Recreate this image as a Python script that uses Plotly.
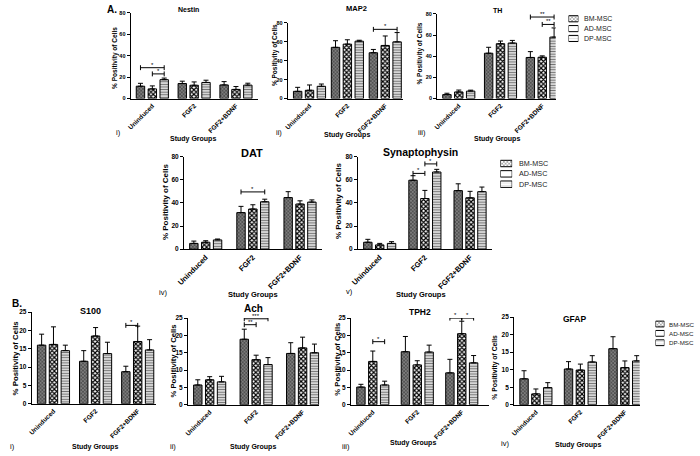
import plotly.graph_objects as go

W, H = 700, 456
FONT = "Liberation Sans, Arial, sans-serif"

# ---------------- data ----------------
GROUPS = ["Uninduced", "FGF2", "FGF2+BDNF"]
SERIES = ["BM-MSC", "AD-MSC", "DP-MSC"]

NESTIN_MEAN = [[11.5, 14.0, 12.7], [9.0, 12.4, 8.5], [17.6, 15.0, 12.5]]
NESTIN_SD = [[2.7, 2.2, 3.1], [2.8, 3.1, 2.7], [1.5, 2.1, 1.8]]
NESTIN_SIG = [(0, 0, 2, 28.8, "*"), (0, 1, 2, 23.0, "*")]

MAP2_MEAN = [[7.6, 54.0, 48.3], [8.7, 57.4, 56.0], [12.9, 60.5, 59.8]]
MAP2_SD = [[4.2, 7.0, 3.5], [5.6, 4.6, 10.0], [2.4, 1.0, 9.8]]
MAP2_SIG = [(2, 0, 2, 73.0, "*")]

TH_MEAN = [[3.7, 42.8, 38.8], [6.2, 51.8, 39.0], [7.0, 52.4, 58.0]]
TH_SD = [[1.3, 5.6, 5.5], [1.8, 2.5, 1.3], [0.9, 2.5, 8.7]]
TH_SIG = [(2, 0, 2, 77.0, "**"), (2, 1, 2, 70.0, "**")]

DAT_MEAN = [[5.0, 31.6, 44.6], [6.0, 34.7, 39.0], [8.0, 41.0, 40.7]]
DAT_SD = [[2.0, 5.4, 5.1], [1.3, 3.7, 2.8], [0.8, 2.2, 1.9]]
DAT_SIG = [(1, 0, 2, 49.5, "*")]

SYN_MEAN = [[6.0, 59.6, 50.6], [3.7, 43.8, 44.4], [5.0, 66.7, 49.7]]
SYN_SD = [[2.5, 3.9, 5.9], [1.3, 7.0, 5.6], [1.5, 2.3, 4.0]]
SYN_SIG = [(1, 0, 1, 65.5, "*"), (1, 1, 2, 73.7, "*")]

S100_MEAN = [[16.0, 11.6, 8.75], [16.2, 18.5, 17.0], [14.5, 13.7, 14.7]]
S100_SD = [[3.0, 2.9, 1.5], [4.8, 2.3, 4.2], [1.5, 3.1, 2.8]]
S100_SIG = [(2, 0, 1, 21.4, "*")]

ACH_MEAN = [[5.7, 18.9, 14.8], [7.2, 13.0, 16.4], [6.6, 11.6, 15.0]]
ACH_SD = [[1.5, 2.9, 3.1], [0.9, 1.3, 3.1], [1.6, 2.0, 2.5]]
ACH_SIG = [(1, 0, 1, 23.1, "**"), (1, 0, 2, 24.8, "***")]

TPH2_MEAN = [[5.1, 15.3, 9.2], [12.5, 11.5, 20.5], [5.7, 15.2, 12.1]]
TPH2_SD = [[0.8, 4.4, 3.9], [3.0, 1.2, 3.6], [1.1, 2.0, 2.1]]
TPH2_SIG = [(0, 1, 2, 18.2, "*"), (2, 0, 1, 25.0, "*"), (2, 1, 2, 25.0, "*")]

GFAP_MEAN = [[7.4, 10.2, 16.0], [3.1, 9.9, 10.6], [4.9, 12.2, 12.5]]
GFAP_SD = [[2.3, 2.1, 3.4], [1.4, 1.7, 1.9], [1.4, 1.8, 1.5]]
GFAP_SIG = []

TITLES = ["Nestin", "MAP2", "TH", "DAT", "Synaptophysin", "S100", "Ach", "TPH2", "GFAP"]
YTITLE = "% Positivity of Cells"
XTITLE = "Study Groups"
ROMANS = ["i)", "ii)", "iii)", "iv)", "v)", "i)", "ii)", "iii)", "iv)"]

# ---------------- styles / layout ----------------
STY = [
    dict(shape="x", bg="#7c7c7c", fg="#3a3a3a", size=2.5, sol=0.4),
    dict(shape="x", bg="#ffffff", fg="#000000", size=3.2, sol=0.6),
    dict(shape="-", bg="#e2e2e2", fg="#707070", size=2.6, sol=0.4),
]

PANELS = [
    dict(mean=NESTIN_MEAN, sd=NESTIN_SD, sig=NESTIN_SIG, x0=124, x1=253, pitch=42.3, ytop=9, yzero=96, ymax=80, dtick=20,
         t=(183, 6, 7), yt=(108, 55, 6.5), xt=(187, 137, 7), ro=(112, 130), tfs=5.5, cfs=6.5),
    dict(mean=MAP2_MEAN, sd=MAP2_SD, sig=MAP2_SIG, x0=283, x1=400, pitch=38.3, ytop=19, yzero=96, ymax=80, dtick=20,
         t=(353, 5, 7.5), yt=(270, 52, 6.5), xt=(343, 133, 7), ro=(274, 131), tfs=5.5, cfs=6.5),
    dict(mean=TH_MEAN, sd=TH_SD, sig=TH_SIG, x0=434, x1=554, pitch=42.2, ytop=10, yzero=96, ymax=80, dtick=20,
         t=(495, 7, 7), yt=(417, 50, 6.5), xt=(495, 137, 7), ro=(419, 131), tfs=5.5, cfs=6.5),
    dict(mean=DAT_MEAN, sd=DAT_SD, sig=DAT_SIG, x0=178, x1=318, pitch=47.7, ytop=155, yzero=249, ymax=80, dtick=20,
         t=(247, 151, 11), yt=(160, 201, 8), xt=(248, 295, 7.5), ro=(157, 293), tfs=6.5, cfs=7.5),
    dict(mean=SYN_MEAN, sd=SYN_SD, sig=SYN_SIG, x0=354, x1=490, pitch=45.7, ytop=155, yzero=249, ymax=80, dtick=20,
         t=(417, 150, 10.5), yt=(335, 200, 8), xt=(418, 295, 7.5), ro=(345, 292), tfs=6.5, cfs=7.5),
    dict(mean=S100_MEAN, sd=S100_SD, sig=S100_SIG, x0=24, x1=150, pitch=42.6, ytop=313, yzero=406, ymax=25, dtick=5,
         t=(83, 312, 9), yt=(8, 359, 7.8), xt=(88, 450, 7), ro=(5, 449), tfs=6.5, cfs=6.5),
    dict(mean=ACH_MEAN, sd=ACH_SD, sig=ACH_SIG, x0=182, x1=315, pitch=47.0, ytop=319, yzero=407, ymax=25, dtick=5,
         t=(248, 309, 10), yt=(167, 363, 7.7), xt=(248, 450, 7), ro=(167, 449), tfs=6.5, cfs=6.5),
    dict(mean=TPH2_MEAN, sd=TPH2_SD, sig=TPH2_SIG, x0=347, x1=487, pitch=45.0, ytop=319, yzero=407, ymax=25, dtick=5,
         t=(417, 313, 8.5), yt=(333, 361, 7.7), xt=(410, 446, 7), ro=(342, 449), tfs=6.5, cfs=6.5),
    dict(mean=GFAP_MEAN, sd=GFAP_SD, sig=GFAP_SIG, x0=512, x1=639, pitch=45.0, ytop=318, yzero=407, ymax=25, dtick=5,
         t=(573, 320, 8.5), yt=(493, 369, 6.8), xt=(577, 448, 7), ro=(503, 446), tfs=6.5, cfs=6.5),
]

LEGENDS = [
    dict(sx0=567, sx1=577, y0=15, step=10, tx=581, fs=7),
    dict(sx0=498, sx1=510, y0=162, step=10.5, tx=515, fs=7.2),
    dict(sx0=655, sx1=664, y0=325, step=9.5, tx=667, fs=6.2),
]

C0 = 22.0       # px from y-axis to first group centre
INPITCH = 12.0  # px between bars of a group
BARW = 8.5      # bar width px


def fx(px):
    return px / W


def fy(py):
    return 1 - py / H


fig = go.Figure()
lay = {}
anns = []
shapes = []


def bold_font(size, color="black"):
    return dict(family=FONT, size=size, color=color, weight="bold")


for i, p in enumerate(PANELS):
    k = i + 1
    xa = "x" if k == 1 else f"x{k}"
    ya = "y" if k == 1 else f"y{k}"
    xn = "xaxis" if k == 1 else f"xaxis{k}"
    yn = "yaxis" if k == 1 else f"yaxis{k}"
    pitch = p["pitch"]
    r0 = -C0 / pitch
    r1 = 2 + (p["x1"] - (p["x0"] + C0 + 2 * pitch)) / pitch
    wu = BARW / pitch
    ipu = INPITCH / pitch
    for s in range(3):
        st = STY[s]
        fig.add_trace(go.Bar(
            x=GROUPS, y=p["mean"][s], name=SERIES[s], width=wu,
            offset=(s - 1) * ipu - wu / 2,
            marker=dict(color=st["bg"], line=dict(color="black", width=1),
                        pattern=dict(shape=st["shape"], bgcolor=st["bg"], fgcolor=st["fg"],
                                     size=st["size"], solidity=st["sol"], fillmode="replace")),
            error_y=dict(type="data", symmetric=False, array=p["sd"][s], arrayminus=[0, 0, 0],
                         color="black", thickness=1, width=2.5),
            xaxis=xa, yaxis=ya, showlegend=False, hoverinfo="skip"))
    lay[xn] = dict(domain=[fx(p["x0"]), fx(p["x1"])], anchor=ya, type="category",
                   categoryorder="array", categoryarray=GROUPS, range=[r0, r1],
                   showline=True, linecolor="black", linewidth=1, ticks="", tickangle=-45,
                   tickfont=bold_font(p["cfs"]), showgrid=False, zeroline=False, fixedrange=True)
    lay[yn] = dict(domain=[fy(p["yzero"]), fy(p["ytop"])], anchor=xa, range=[0, p["ymax"]],
                   dtick=p["dtick"], tick0=0, showline=True, linecolor="black", linewidth=1,
                   ticks="outside", ticklen=3, tickwidth=1, tickcolor="black",
                   tickfont=bold_font(p["tfs"]), showgrid=False, zeroline=False, fixedrange=True)
    unit_per_px = p["ymax"] / (p["yzero"] - p["ytop"])
    for (g, s1, s2, yv, lab) in p["sig"]:
        xa1 = g + (s1 - 1) * ipu
        xa2 = g + (s2 - 1) * ipu
        d = 2.5 * unit_per_px
        for seg in [(xa1, yv, xa2, yv), (xa1, yv - d, xa1, yv + d), (xa2, yv - d, xa2, yv + d)]:
            shapes.append(dict(type="line", xref=xa, yref=ya, x0=seg[0], y0=seg[1], x1=seg[2], y1=seg[3],
                               line=dict(color="black", width=1)))
        anns.append(dict(x=(xa1 + xa2) / 2, y=yv, xref=xa, yref=ya, text=lab, showarrow=False,
                         yanchor="bottom", yshift=-2, font=dict(family=FONT, size=6, color="black")))
    tx, ty, ts = p["t"]
    anns.append(dict(x=fx(tx), y=fy(ty), xref="paper", yref="paper", text=TITLES[i], showarrow=False,
                     xanchor="center", yanchor="middle", font=bold_font(ts)))
    yx, yy, ys = p["yt"]
    anns.append(dict(x=fx(yx), y=fy(yy), xref="paper", yref="paper", text=YTITLE, showarrow=False,
                     textangle=-90, xanchor="center", yanchor="middle", font=bold_font(ys)))
    sx, sy, ss = p["xt"]
    anns.append(dict(x=fx(sx), y=fy(sy), xref="paper", yref="paper", text=XTITLE, showarrow=False,
                     xanchor="center", yanchor="middle", font=bold_font(ss)))
    rx, ry = p["ro"]
    anns.append(dict(x=fx(rx), y=fy(ry), xref="paper", yref="paper", text=ROMANS[i], showarrow=False,
                     xanchor="center", yanchor="middle", font=dict(family=FONT, size=7.5, color="black")))

anns.append(dict(x=fx(105), y=fy(6), xref="paper", yref="paper", text="A.", showarrow=False,
                 xanchor="center", yanchor="middle", font=bold_font(10)))
anns.append(dict(x=fx(9), y=fy(304), xref="paper", yref="paper", text="B.", showarrow=False,
                 xanchor="center", yanchor="middle", font=bold_font(10)))

for j, L in enumerate(LEGENDS):
    k = 10 + j
    xa, ya = f"x{k}", f"y{k}"
    top = L["y0"] - L["step"] / 2
    bot = L["y0"] + 2.5 * L["step"]
    fig.add_trace(go.Bar(
        y=SERIES, x=[1, 1, 1], orientation="h", width=0.62, base=0,
        marker=dict(color=[s["bg"] for s in STY], line=dict(color="black", width=1),
                    pattern=dict(shape=[s["shape"] for s in STY], bgcolor=[s["bg"] for s in STY],
                                 fgcolor=[s["fg"] for s in STY], size=[s["size"] for s in STY],
                                 solidity=[s["sol"] for s in STY], fillmode="replace")),
        xaxis=xa, yaxis=ya, showlegend=False, hoverinfo="skip"))
    lay[f"xaxis{k}"] = dict(domain=[fx(L["sx0"]), fx(L["sx1"])], anchor=ya, range=[0, 1], visible=False,
                            fixedrange=True)
    lay[f"yaxis{k}"] = dict(domain=[fy(bot), fy(top)], anchor=xa, type="category", categoryorder="array",
                            categoryarray=SERIES, range=[2.5, -0.5], visible=False, fixedrange=True)
    for s, name in enumerate(SERIES):
        anns.append(dict(x=fx(L["tx"]), y=fy(L["y0"] + s * L["step"]), xref="paper", yref="paper",
                         text=name, showarrow=False, xanchor="left", yanchor="middle",
                         font=dict(family=FONT, size=L["fs"], color="#222222")))

fig.update_layout(
    width=W, height=H, margin=dict(l=0, r=0, t=0, b=0),
    paper_bgcolor="white", plot_bgcolor="white", barmode="overlay",
    showlegend=False, annotations=anns, shapes=shapes, hovermode=False,
    font=dict(family=FONT, color="black"), **lay)

fig.write_html("out.html", config={"displayModeBar": False, "staticPlot": True},
               post_script="document.body.style.margin='0px';document.body.style.overflow='hidden';")
